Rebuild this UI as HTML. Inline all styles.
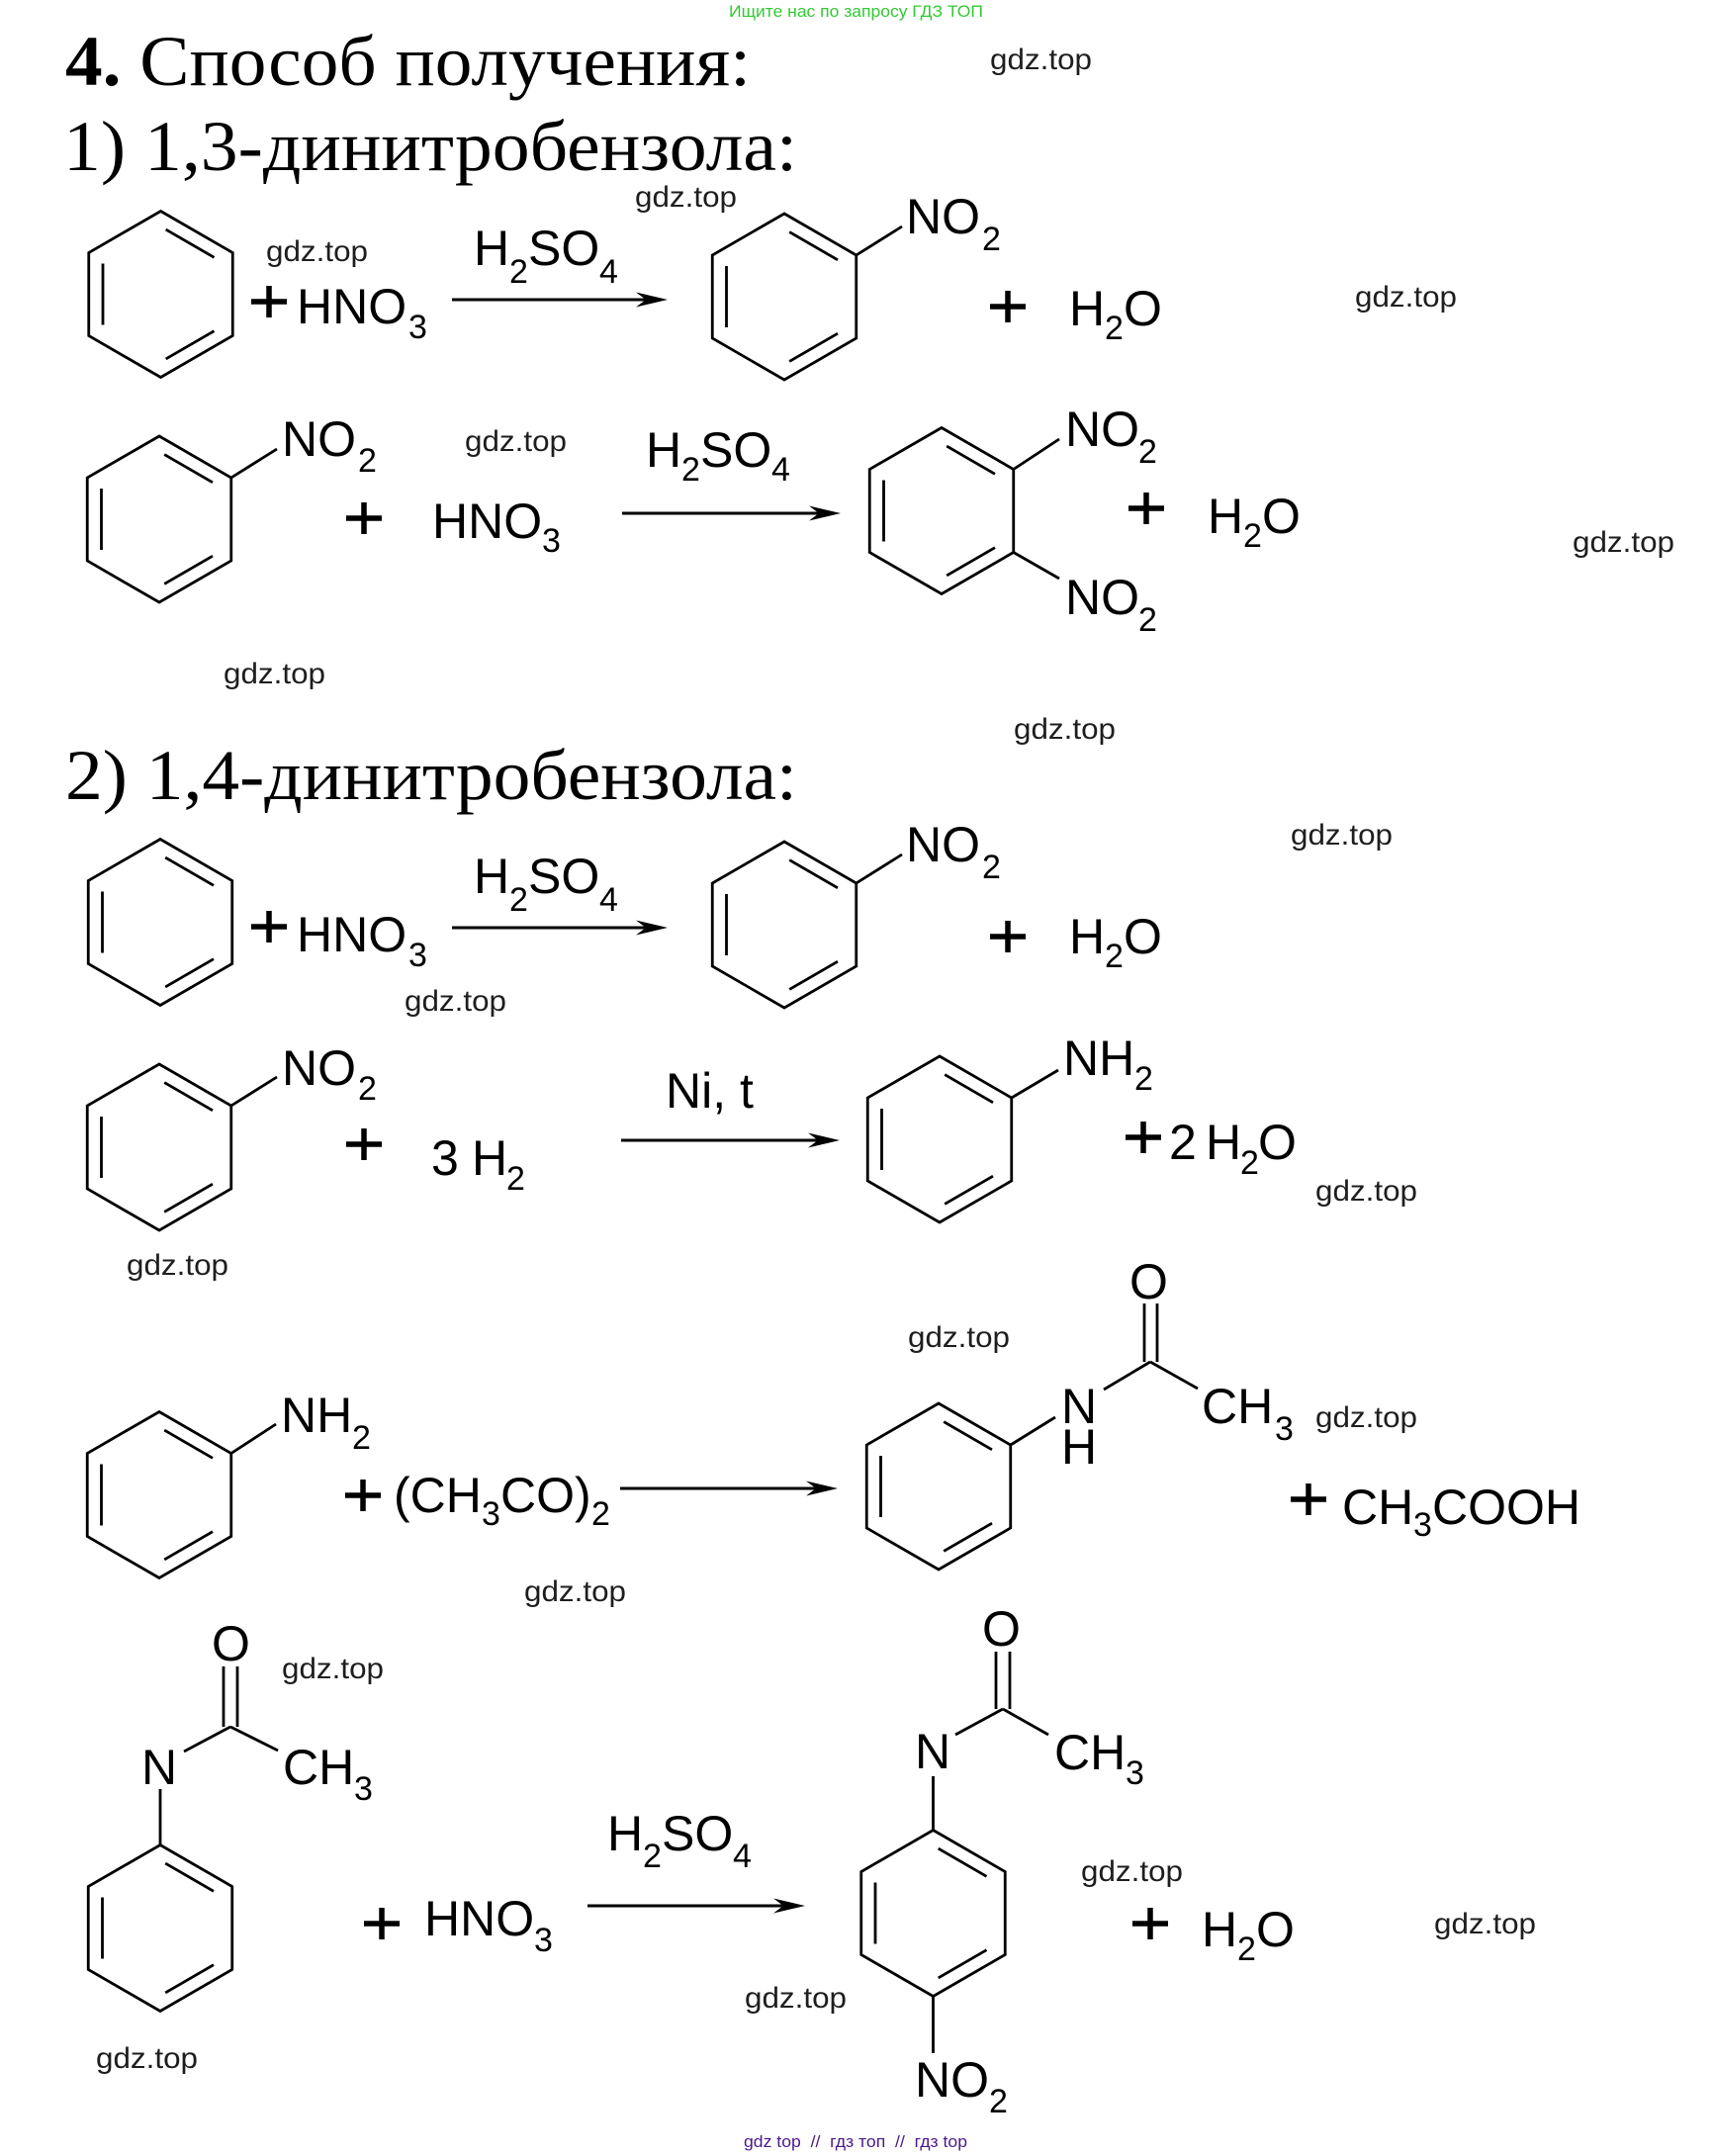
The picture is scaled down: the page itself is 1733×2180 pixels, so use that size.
<!DOCTYPE html>
<html>
<head>
<meta charset="utf-8">
<style>
html,body{margin:0;padding:0;background:#fff;}
svg{display:block;}
.m{font-family:"Liberation Sans",Arial,sans-serif;font-size:50px;fill:#000;}
.s{font-family:"Liberation Sans",Arial,sans-serif;font-size:34px;fill:#000;}
.w{font-family:"Liberation Sans",Arial,sans-serif;font-size:30px;fill:#1e1e1e;}
.t{font-family:"Liberation Serif","Times New Roman",serif;font-size:72px;fill:#000;}
.b{stroke:#000;stroke-width:2.8;fill:none;}
.p{stroke:#000;stroke-width:5.5;fill:none;}
.a{stroke:#000;stroke-width:3;fill:none;}
</style>
</head>
<body>
<svg xmlns="http://www.w3.org/2000/svg" width="1733" height="2180" viewBox="0 0 1733 2180">
<defs>
<g id="bz" fill="none" stroke="#000" stroke-width="2.8">
<polygon points="0,-84 72.75,-42 72.75,42 0,84 -72.75,42 -72.75,-42"/>
<line x1="5.2" y1="-65.4" x2="54" y2="-37.2"/>
<line x1="-58.5" y1="-31" x2="-58.5" y2="31"/>
<line x1="5.2" y1="65.4" x2="54" y2="37.2"/>
</g>
<polygon id="ah" points="0,0 -32,-7.5 -22,0 -32,7.5" fill="#000"/>
</defs>
<rect width="1733" height="2180" fill="#fff"/>

<!-- header -->
<text x="737" y="17" font-family="Liberation Sans, Arial, sans-serif" font-size="17" fill="#34c934" textLength="257" lengthAdjust="spacingAndGlyphs">Ищите нас по запросу ГДЗ ТОП</text>
<text class="t" x="66" y="86" textLength="693" lengthAdjust="spacingAndGlyphs"><tspan font-weight="bold">4.</tspan> Способ получения:</text>
<text class="t" x="64" y="172" textLength="742" lengthAdjust="spacingAndGlyphs">1) 1,3-динитробензола:</text>
<text class="t" x="66" y="808" textLength="740" lengthAdjust="spacingAndGlyphs">2) 1,4-динитробензола:</text>

<!-- watermarks -->
<g class="w">
<text x="1001" y="70" textLength="103" lengthAdjust="spacingAndGlyphs">gdz.top</text>
<text x="642" y="209" textLength="103" lengthAdjust="spacingAndGlyphs">gdz.top</text>
<text x="269" y="264" textLength="103" lengthAdjust="spacingAndGlyphs">gdz.top</text>
<text x="1370" y="310" textLength="103" lengthAdjust="spacingAndGlyphs">gdz.top</text>
<text x="470" y="456" textLength="103" lengthAdjust="spacingAndGlyphs">gdz.top</text>
<text x="1590" y="558" textLength="103" lengthAdjust="spacingAndGlyphs">gdz.top</text>
<text x="226" y="691" textLength="103" lengthAdjust="spacingAndGlyphs">gdz.top</text>
<text x="1025" y="747" textLength="103" lengthAdjust="spacingAndGlyphs">gdz.top</text>
<text x="1305" y="854" textLength="103" lengthAdjust="spacingAndGlyphs">gdz.top</text>
<text x="409" y="1022" textLength="103" lengthAdjust="spacingAndGlyphs">gdz.top</text>
<text x="1330" y="1214" textLength="103" lengthAdjust="spacingAndGlyphs">gdz.top</text>
<text x="128" y="1289" textLength="103" lengthAdjust="spacingAndGlyphs">gdz.top</text>
<text x="918" y="1362" textLength="103" lengthAdjust="spacingAndGlyphs">gdz.top</text>
<text x="1330" y="1443" textLength="103" lengthAdjust="spacingAndGlyphs">gdz.top</text>
<text x="530" y="1619" textLength="103" lengthAdjust="spacingAndGlyphs">gdz.top</text>
<text x="285" y="1697" textLength="103" lengthAdjust="spacingAndGlyphs">gdz.top</text>
<text x="1093" y="1902" textLength="103" lengthAdjust="spacingAndGlyphs">gdz.top</text>
<text x="1450" y="1955" textLength="103" lengthAdjust="spacingAndGlyphs">gdz.top</text>
<text x="753" y="2030" textLength="103" lengthAdjust="spacingAndGlyphs">gdz.top</text>
<text x="97" y="2091" textLength="103" lengthAdjust="spacingAndGlyphs">gdz.top</text>
</g>

<!-- rings -->
<use href="#bz" transform="translate(162.5,297.5)"/>
<use href="#bz" transform="translate(793,300)"/>
<use href="#bz" transform="translate(161,525)"/>
<use href="#bz" transform="translate(952,516.5)"/>
<use href="#bz" transform="translate(162,932.5)"/>
<use href="#bz" transform="translate(793,935)"/>
<use href="#bz" transform="translate(161,1160)"/>
<use href="#bz" transform="translate(950,1152)"/>
<use href="#bz" transform="translate(161,1511.5)"/>
<use href="#bz" transform="translate(949,1503)"/>
<use href="#bz" transform="translate(162,1949.5)"/>
<use href="#bz" transform="translate(943.5,1934.5)"/>

<!-- bonds -->
<g class="b">
<line x1="865.75" y1="258" x2="912" y2="229"/>
<line x1="233.75" y1="483" x2="280" y2="454"/>
<line x1="1024.75" y1="474.5" x2="1071" y2="444"/>
<line x1="1024.75" y1="558.5" x2="1071" y2="585"/>
<line x1="865.75" y1="893" x2="912" y2="864"/>
<line x1="233.75" y1="1118" x2="280" y2="1089"/>
<line x1="1022.75" y1="1110" x2="1070" y2="1082"/>
<line x1="233.75" y1="1469.5" x2="279" y2="1440"/>
<line x1="1021.75" y1="1461" x2="1067" y2="1433"/>
<line x1="1116" y1="1405" x2="1163" y2="1377"/>
<line x1="1163" y1="1377" x2="1211" y2="1404"/>
<line x1="1157" y1="1318" x2="1157" y2="1377"/>
<line x1="1170" y1="1318" x2="1170" y2="1377"/>
<line x1="162" y1="1865.5" x2="162" y2="1809"/>
<line x1="186" y1="1771" x2="233" y2="1746"/>
<line x1="233" y1="1746" x2="281" y2="1770"/>
<line x1="226" y1="1685" x2="226" y2="1746"/>
<line x1="240" y1="1685" x2="240" y2="1746"/>
<line x1="943.5" y1="1850.5" x2="943.5" y2="1796"/>
<line x1="943.5" y1="2018.5" x2="943.5" y2="2076"/>
<line x1="966" y1="1754" x2="1014" y2="1728"/>
<line x1="1014" y1="1728" x2="1060" y2="1754"/>
<line x1="1007" y1="1670" x2="1007" y2="1728"/>
<line x1="1021" y1="1670" x2="1021" y2="1728"/>
</g>

<!-- arrows -->
<g class="a">
<line x1="457" y1="303" x2="655" y2="303"/>
<line x1="629" y1="519" x2="830" y2="519"/>
<line x1="457" y1="938" x2="655" y2="938"/>
<line x1="628" y1="1153" x2="829" y2="1153"/>
<line x1="627" y1="1505" x2="827" y2="1505"/>
<line x1="594" y1="1927" x2="794" y2="1927"/>
</g>
<use href="#ah" transform="translate(675,303)"/>
<use href="#ah" transform="translate(850,519)"/>
<use href="#ah" transform="translate(675,938)"/>
<use href="#ah" transform="translate(849,1153)"/>
<use href="#ah" transform="translate(847,1505)"/>
<use href="#ah" transform="translate(814,1927)"/>

<!-- plus signs -->
<g class="p">
<path d="M254 305h36M272 289v32"/>
<path d="M1001 310h36M1019 294v32"/>
<path d="M350 524h36M368 508v32"/>
<path d="M1141 514h36M1159 498v32"/>
<path d="M254 937h36M272 921v32"/>
<path d="M1001 947h36M1019 931v32"/>
<path d="M350 1157h36M368 1141v32"/>
<path d="M1138 1150h36M1156 1134v32"/>
<path d="M349 1512h36M367 1496v32"/>
<path d="M1305 1516h36M1323 1500v32"/>
<path d="M368 1945h36M386 1929v32"/>
<path d="M1145 1945h36M1163 1929v32"/>
</g>

<!-- Reaction 1 -->
<text class="m" x="300" y="327">HNO</text><text class="s" x="413" y="342">3</text>
<text class="m" x="479" y="268">H</text><text class="s" x="515" y="286">2</text><text class="m" x="534" y="268">SO</text><text class="s" x="606" y="286">4</text>
<text class="m" x="916" y="236">NO</text><text class="s" x="993" y="253">2</text>
<text class="m" x="1081" y="329">H</text><text class="s" x="1117" y="343">2</text><text class="m" x="1136" y="329">O</text>

<!-- Reaction 2 -->
<text class="m" x="285" y="461">NO</text><text class="s" x="362" y="477">2</text>
<text class="m" x="653" y="472">H</text><text class="s" x="689" y="486">2</text><text class="m" x="708" y="472">SO</text><text class="s" x="780" y="486">4</text>
<text class="m" x="437" y="544">HNO</text><text class="s" x="548" y="558">3</text>
<text class="m" x="1077" y="451">NO</text><text class="s" x="1151" y="468">2</text>
<text class="m" x="1077" y="621">NO</text><text class="s" x="1151" y="638">2</text>
<text class="m" x="1221" y="539">H</text><text class="s" x="1257" y="553">2</text><text class="m" x="1276" y="539">O</text>

<!-- Reaction 3 -->
<text class="m" x="300" y="962">HNO</text><text class="s" x="413" y="977">3</text>
<text class="m" x="479" y="903">H</text><text class="s" x="515" y="921">2</text><text class="m" x="534" y="903">SO</text><text class="s" x="606" y="921">4</text>
<text class="m" x="916" y="871">NO</text><text class="s" x="993" y="888">2</text>
<text class="m" x="1081" y="964">H</text><text class="s" x="1117" y="978">2</text><text class="m" x="1136" y="964">O</text>

<!-- Reaction 4 -->
<text class="m" x="285" y="1097">NO</text><text class="s" x="362" y="1112">2</text>
<text class="m" x="436" y="1188">3</text><text class="m" x="477" y="1188">H</text><text class="s" x="512" y="1203">2</text>
<text class="m" x="673" y="1120">Ni, t</text>
<text class="m" x="1075" y="1087">NH</text><text class="s" x="1147" y="1102">2</text>
<text class="m" x="1182" y="1172">2</text><text class="m" x="1219" y="1172">H</text><text class="s" x="1254" y="1187">2</text><text class="m" x="1272" y="1172">O</text>

<!-- Reaction 5 -->
<text class="m" x="284" y="1448">NH</text><text class="s" x="356" y="1465">2</text>
<text class="m" x="398" y="1529">(CH</text><text class="s" x="487" y="1542">3</text><text class="m" x="506" y="1529">CO)</text><text class="s" x="598" y="1542">2</text>
<text class="m" x="1142" y="1313">O</text>
<text class="m" x="1073" y="1439">N</text>
<text class="m" x="1073" y="1480">H</text>
<text class="m" x="1215" y="1439">CH</text><text class="s" x="1289" y="1456">3</text>
<text class="m" x="1357" y="1541">CH</text><text class="s" x="1429" y="1553">3</text><text class="m" x="1448" y="1541">COOH</text>

<!-- Reaction 6 -->
<text class="m" x="214" y="1679">O</text>
<text class="m" x="143" y="1804">N</text>
<text class="m" x="286" y="1804">CH</text><text class="s" x="358" y="1820">3</text>
<text class="m" x="429" y="1957">HNO</text><text class="s" x="540" y="1973">3</text>
<text class="m" x="614" y="1871">H</text><text class="s" x="650" y="1888">2</text><text class="m" x="669" y="1871">SO</text><text class="s" x="741" y="1888">4</text>
<text class="m" x="993" y="1664">O</text>
<text class="m" x="925" y="1788">N</text>
<text class="m" x="1066" y="1789">CH</text><text class="s" x="1138" y="1804">3</text>
<text class="m" x="925" y="2120">NO</text><text class="s" x="1000" y="2136">2</text>
<text class="m" x="1215" y="1968">H</text><text class="s" x="1251" y="1982">2</text><text class="m" x="1270" y="1968">O</text>

<!-- footer -->
<text x="752" y="2171" font-family="Liberation Sans, Arial, sans-serif" font-size="17" fill="#4a1a8c" textLength="226" lengthAdjust="spacingAndGlyphs" xml:space="preserve">gdz top  //  гдз топ  //  гдз top</text>
</svg>
</body>
</html>
